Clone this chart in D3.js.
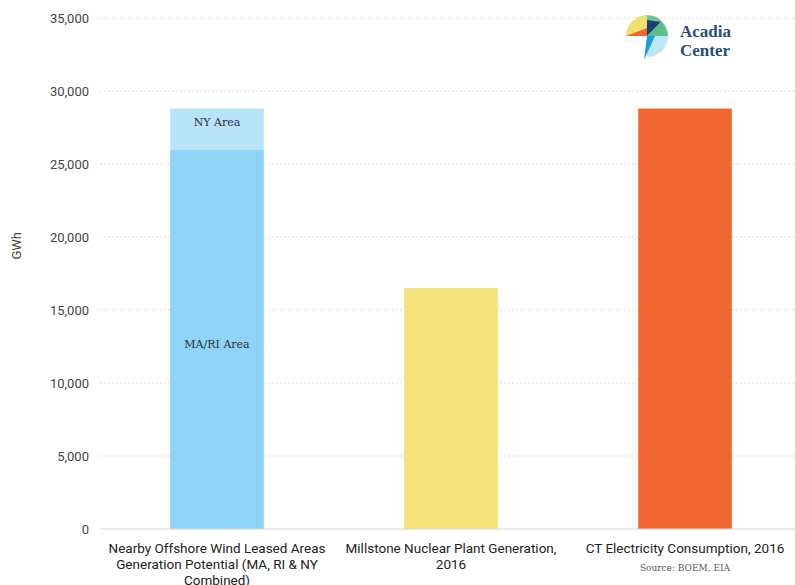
<!DOCTYPE html>
<html>
<head>
<meta charset="utf-8">
<script src="https://cdn.jsdelivr.net/npm/d3@7"></script>
<style>
  body { margin: 0; background: #fff; }
  svg { display: block; }
</style>
</head>
<body>
<div id="chart"></div>
<script>
// data
var categories = ["wind", "millstone", "ct"];
var categoryLabels = [
    ["Nearby Offshore Wind Leased Areas", "Generation Potential (MA, RI & NY", "Combined)"],
    ["Millstone Nuclear Plant Generation,", "2016"],
    ["CT Electricity Consumption, 2016"]
];
var baseValues = [26000, 16500, 28800];
var nyValues = [2800, 0, 0];
var barColors = ["#8fd3f6", "#f3e27a", "#f26633"];
var yTicks = [0, 5000, 10000, 15000, 20000, 25000, 30000, 35000];

var width = 795, height = 585;
var margin = { top: 18, right: 0, bottom: 57, left: 100 };

var svg = d3.select("#chart")
    .append("svg")
    .attr("width", width)
    .attr("height", height);

var x = d3.scaleBand()
    .domain(categories)
    .range([margin.left, 802])
    .paddingInner(0.6)
    .paddingOuter(0.3);

var y = d3.scaleLinear()
    .domain([0, 35000])
    .range([height - margin.bottom + 1, margin.top]);

// gridlines
svg.append("g")
    .selectAll("line")
    .data(yTicks.filter(function (d) { return d > 0; }))
    .enter()
    .append("line")
    .attr("x1", margin.left)
    .attr("x2", width)
    .attr("y1", function (d) { return y(d); })
    .attr("y2", function (d) { return y(d); })
    .style("stroke", "#dcdcdc")
    .style("stroke-width", 1)
    .style("stroke-dasharray", "2,2");

// y axis labels
var yAxis = d3.axisLeft(y)
    .tickValues(yTicks)
    .tickFormat(d3.format(","))
    .tickSize(0)
    .tickPadding(11);

svg.append("g")
    .attr("transform", "translate(" + margin.left + ",0)")
    .call(yAxis)
    .call(function (g) { g.select(".domain").remove(); })
    .selectAll("text")
    .style("font-family", "Roboto, 'Liberation Sans', sans-serif")
    .style("font-size", "13px")
    .style("fill", "#444");

svg.append("text")
    .attr("transform", "translate(21," + y(19400) + ") rotate(-90)")
    .attr("text-anchor", "middle")
    .style("font-family", "Roboto, 'Liberation Sans', sans-serif")
    .style("font-size", "13px")
    .style("fill", "#444")
    .text("GWh");

// bars
svg.append("g")
    .selectAll("rect")
    .data(categories)
    .enter()
    .append("rect")
    .attr("x", function (d) { return x(d); })
    .attr("width", x.bandwidth())
    .attr("y", function (d, i) { return y(baseValues[i]); })
    .attr("height", function (d, i) { return y(0) - y(baseValues[i]); })
    .style("fill", function (d, i) { return barColors[i]; });

// NY area stack on top of wind bar
svg.append("g")
    .selectAll("rect")
    .data(categories.filter(function (d, i) { return nyValues[i] > 0; }))
    .enter()
    .append("rect")
    .attr("x", function (d) { return x(d); })
    .attr("width", x.bandwidth())
    .attr("y", function (d) { var i = categories.indexOf(d); return y(baseValues[i] + nyValues[i]); })
    .attr("height", function (d) { var i = categories.indexOf(d); return y(baseValues[i]) - y(baseValues[i] + nyValues[i]); })
    .style("fill", "#b9e3f9");

// bar annotations
svg.append("text")
    .attr("x", x("wind") + x.bandwidth() / 2)
    .attr("y", y(baseValues[0] + nyValues[0]) + 17)
    .attr("text-anchor", "middle")
    .style("font-family", "'DejaVu Serif', serif")
    .style("font-size", "11px")
    .style("fill", "#2a2f3a")
    .text("NY Area");

svg.append("text")
    .attr("x", x("wind") + x.bandwidth() / 2)
    .attr("y", y(12500) + 1)
    .attr("text-anchor", "middle")
    .style("font-family", "'DejaVu Serif', serif")
    .style("font-size", "11px")
    .style("fill", "#2a2f3a")
    .text("MA/RI Area");

// zero line
svg.append("line")
    .attr("x1", margin.left)
    .attr("x2", width)
    .attr("y1", y(0))
    .attr("y2", y(0))
    .style("stroke", "#d6d6d6")
    .style("stroke-width", 1);

// x labels
var xl = svg.append("g")
    .selectAll("text")
    .data(categories)
    .enter()
    .append("text")
    .attr("x", function (d) { return x(d) + x.bandwidth() / 2; })
    .attr("y", y(0) + 24)
    .attr("text-anchor", "middle")
    .style("font-family", "Roboto, 'Liberation Sans', sans-serif")
    .style("font-size", "13.5px")
    .style("fill", "#222");

xl.selectAll("tspan")
    .data(function (d, i) { return categoryLabels[i]; })
    .enter()
    .append("tspan")
    .attr("x", function () { return d3.select(this.parentNode).attr("x"); })
    .attr("dy", function (d, i) { return i === 0 ? 0 : 16; })
    .text(function (d) { return d; });

svg.append("text")
    .attr("x", x("ct") + x.bandwidth() / 2)
    .attr("y", y(0) + 42)
    .attr("text-anchor", "middle")
    .style("font-family", "'DejaVu Serif', serif")
    .style("font-size", "9px")
    .style("fill", "#555")
    .text("Source: BOEM, EIA");

// logo
var logo = svg.append("g").attr("transform", "translate(647,36)");
var r = 21;
var arc = d3.arc().innerRadius(0).outerRadius(r);
logo.append("path").attr("d", arc({ startAngle: -Math.PI / 2, endAngle: 0 })).style("fill", "#ece16a");
logo.append("path").attr("d", arc({ startAngle: 0, endAngle: Math.PI / 2 })).style("fill", "#6cc69b");
logo.append("path").attr("d", arc({ startAngle: Math.PI / 2, endAngle: Math.PI })).style("fill", "#bfe5f8");
logo.append("path").attr("d", "M" + (-r) + ",0 L0,-8 L0,0 Z").style("fill", "#f26633");
logo.append("path").attr("d", "M0,0 L0,-16 L14,-14 Z").style("fill", "#1d3f73");
logo.append("path").attr("d", "M0,0 L14,-14 L" + r + ",0 Z").style("fill", "#5fbf8c");
logo.append("path").attr("d", "M0,0 L8,0 L-3," + (r + 3) + " Z").style("fill", "#1b9ee0");
logo.append("text")
    .attr("x", 33).attr("y", 1)
    .style("font-family", "'Liberation Serif', serif")
    .style("font-weight", "bold")
    .style("font-size", "17px")
    .style("fill", "#1f4e7a")
    .text("Acadia");
logo.append("text")
    .attr("x", 33).attr("y", 19.5)
    .style("font-family", "'Liberation Serif', serif")
    .style("font-weight", "bold")
    .style("font-size", "17px")
    .style("fill", "#1f4e7a")
    .text("Center");
</script>
</body>
</html>
